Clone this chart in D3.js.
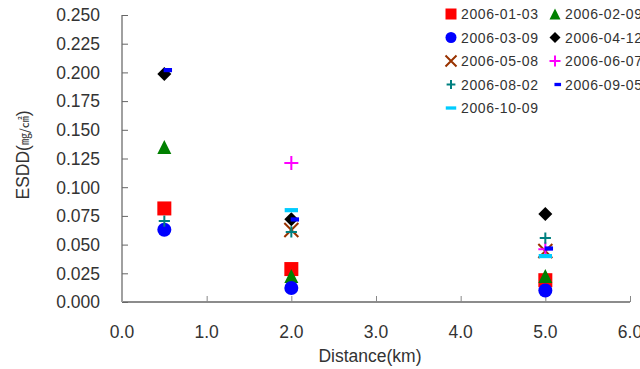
<!DOCTYPE html>
<html>
<head>
<meta charset="utf-8">
<script src="https://cdn.jsdelivr.net/npm/d3@7"></script>
<style>
  body { margin: 0; background: #fff; }
  svg { display: block; }
</style>
</head>
<body>
<div id="chart"></div>
<script>
// distances along the line (km)
var distances = [0.5, 2.0, 5.0];

// ESDD per measuring date, null where nothing was measured
var dates = ["2006-01-03", "2006-02-09", "2006-03-09", "2006-04-12", "2006-05-08",
             "2006-06-07", "2006-08-02", "2006-09-05", "2006-10-09"];
var esdd0103 = [0.0815, 0.0287, 0.0190];
var esdd0209 = [0.1350, 0.0226, 0.0226];
var esdd0309 = [0.0630, 0.0122, 0.0100];
var esdd0412 = [0.1985, 0.0720, 0.0767];
var esdd0508 = [null, 0.0627, 0.0444];
var esdd0607 = [null, 0.1210, 0.0460];
var esdd0802 = [0.0705, 0.0610, 0.0557];
var esdd0905 = [0.2020, 0.0719, 0.0466];
var esdd1009 = [null, 0.0800, 0.0400];

var xTicks = [0, 1, 2, 3, 4, 5, 6];
var yTicks = [0, 0.025, 0.05, 0.075, 0.1, 0.125, 0.15, 0.175, 0.2, 0.225, 0.25];

var markers = ["square", "triangle", "circle", "diamond", "cross", "plus", "smallplus", "dash", "longdash"];
var colors = ["#ff0000", "#008000", "#0000ff", "#000000", "#993300", "#ff00ff", "#008080", "#0000ff", "#00ccff"];
var values = [esdd0103, esdd0209, esdd0309, esdd0412, esdd0508, esdd0607, esdd0802, esdd0905, esdd1009];

var width = 640, height = 369;
var svg = d3.select("#chart").append("svg")
  .attr("width", width)
  .attr("height", height);

var x = d3.scaleLinear().domain([0, 6]).range([122, 630]);
var y = d3.scaleLinear().domain([0, 0.25]).range([302, 15]);

// shape outline for a marker, centred on 0,0 (s = half size)
function markerPath(kind, s) {
  switch (kind) {
    case "square": return "M" + (-s) + "," + (-s) + "h" + 2 * s + "v" + 2 * s + "h" + (-2 * s) + "Z";
    case "triangle": return "M0," + (-s) + "L" + s + "," + s + "L" + (-s) + "," + s + "Z";
    case "diamond": return "M0," + (-s) + "L" + s + ",0L0," + s + "L" + (-s) + ",0Z";
    case "circle": return d3.symbol(d3.symbolCircle, Math.PI * s * s)();
    case "cross": return "M" + (-s) + "," + (-s) + "L" + s + "," + s + "M" + s + "," + (-s) + "L" + (-s) + "," + s;
    case "plus": return "M" + (-s) + ",0H" + s + "M0," + (-s) + "V" + s;
    case "smallplus": return "M" + (-s * 0.8) + ",0H" + s * 0.8 + "M0," + (-s * 0.8) + "V" + s * 0.8;
    case "dash": return "M" + (-s * 0.1) + "," + (-s * 0.3) + "h" + s * 1.2 + "v" + s * 0.6 + "h" + (-s * 1.2) + "Z";
    case "longdash": return "M" + (-s * 0.95) + "," + (-s * 0.3) + "h" + s * 1.9 + "v" + s * 0.6 + "h" + (-s * 1.9) + "Z";
  }
}
function isStroked(kind) {
  return kind === "cross" || kind === "plus" || kind === "smallplus";
}
function drawMarker(g, kind, color, s) {
  g.append("path")
    .attr("d", markerPath(kind, s))
    .attr("fill", isStroked(kind) ? "none" : color)
    .attr("stroke", isStroked(kind) ? color : "none")
    .attr("stroke-width", 2);
}

// x axis
var xAxis = svg.append("g").attr("transform", "translate(0," + y(0) + ")")
  .call(d3.axisTop(x).tickValues(xTicks).tickSize(6).tickFormat(""));
xAxis.select(".domain").attr("stroke", "#666").attr("stroke-width", 1.5).attr("d", "M" + x(0) + ",0H" + x(6));
xAxis.selectAll(".tick line").attr("stroke", "#888");

svg.append("g").selectAll("text").data(xTicks).join("text")
  .attr("x", function(d) { return x(d); })
  .attr("y", 338)
  .attr("text-anchor", "middle")
  .attr("font-family", "Liberation Sans, Arial, sans-serif")
  .attr("font-size", "17.5px")
  .attr("fill", "#333")
  .text(function(d) { return d.toFixed(1); });

// y axis
var yAxis = svg.append("g").attr("transform", "translate(" + x(0) + ",0)")
  .call(d3.axisRight(y).tickValues(yTicks).tickSize(6).tickFormat(""));
yAxis.select(".domain").attr("stroke", "#a0a0a0").attr("stroke-width", 2).attr("d", "M0," + y(0.25) + "V" + y(0));
yAxis.selectAll(".tick line").attr("stroke", "#666");

svg.append("g").selectAll("text").data(yTicks).join("text")
  .attr("x", 100)
  .attr("y", function(d) { return y(d); })
  .attr("dy", "0.36em")
  .attr("text-anchor", "end")
  .attr("font-family", "Liberation Sans, Arial, sans-serif")
  .attr("font-size", "17.5px")
  .attr("fill", "#333")
  .text(function(d) { return d.toFixed(3); });

// axis titles
svg.append("text")
  .attr("x", 370)
  .attr("y", 362)
  .attr("text-anchor", "middle")
  .attr("font-family", "Liberation Sans, Arial, sans-serif")
  .attr("font-size", "17.5px")
  .attr("fill", "#333")
  .text("Distance(km)");

var yTitle = svg.append("text")
  .attr("transform", "translate(29,155) rotate(-90)")
  .attr("text-anchor", "middle")
  .attr("font-family", "Liberation Sans, Arial, sans-serif")
  .attr("font-size", "17.5px")
  .attr("fill", "#333");
yTitle.append("tspan").text("ESDD(");
yTitle.append("tspan").attr("font-family", "Noto Sans CJK KR").attr("font-size", "12px").text("㎎/㎠");
yTitle.append("tspan").text(")");

// points, series in order so later dates sit on top
var plot = svg.append("g");
values.forEach(function(vals, i) {
  var pts = distances.map(function(d, j) { return { x: d, v: vals[j] }; })
    .filter(function(p) { return p.v !== null; });
  pts.forEach(function(p) {
    var g = plot.append("g").attr("transform", "translate(" + x(p.x) + "," + y(p.v) + ")");
    drawMarker(g, markers[i], colors[i], 7);
  });
});

// legend, two columns
var legend = svg.append("g");
dates.forEach(function(d, i) {
  var col = i % 2, row = Math.floor(i / 2);
  var g = legend.append("g").attr("transform", "translate(" + (451 + col * 104) + "," + (14 + row * 23.5) + ")");
  drawMarker(g, markers[i], colors[i], 5.5);
  g.append("text")
    .attr("x", 10)
    .attr("dy", "0.36em")
    .attr("font-family", "Liberation Sans, Arial, sans-serif")
    .attr("font-size", "14px")
    .attr("fill", "#333")
    .attr("textLength", 77)
    .attr("lengthAdjust", "spacing")
    .text(d);
});
</script>
</body>
</html>
